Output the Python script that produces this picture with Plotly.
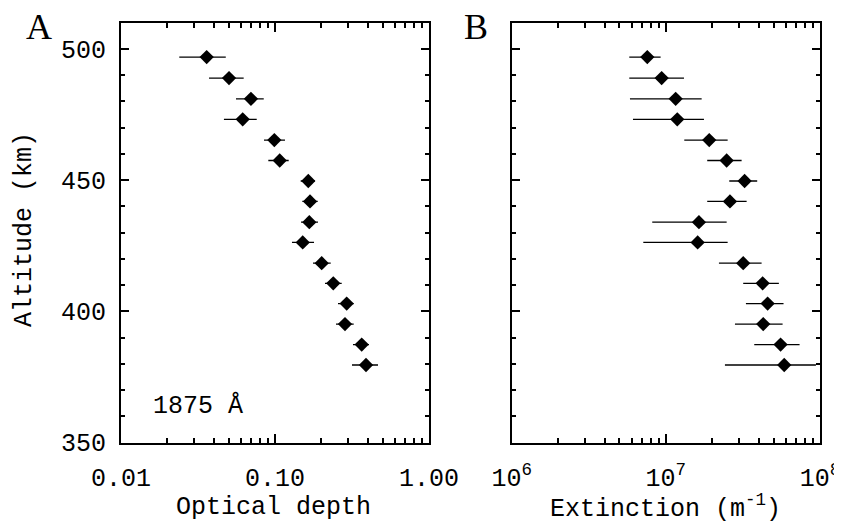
import plotly.graph_objects as go

# ---- data ----
altitude = [496.9, 488.9, 481.0, 473.2, 465.3, 457.5, 449.7, 441.9,
            434.0, 426.3, 418.4, 410.7, 403.0, 395.2, 387.4, 379.6]

tau = [0.0360, 0.0503, 0.0698, 0.0617, 0.0990, 0.1073, 0.1645, 0.1688,
       0.1670, 0.1513, 0.2010, 0.2390, 0.2921, 0.2847, 0.3656, 0.3899]
tau_lo = [0.0239, 0.0373, 0.0558, 0.0466, 0.0848, 0.0905, 0.1468, 0.1504,
          0.1475, 0.1289, 0.1765, 0.2112, 0.2565, 0.2489, 0.3209, 0.3162]
tau_hi = [0.0479, 0.0626, 0.0845, 0.0761, 0.1161, 0.1227, 0.1818, 0.1894,
          0.1902, 0.1792, 0.2300, 0.2711, 0.3243, 0.3243, 0.4077, 0.4665]

ext = [7.58e6, 9.39e6, 1.158e7, 1.186e7, 1.912e7, 2.480e7, 3.243e7, 2.605e7,
       1.639e7, 1.608e7, 3.176e7, 4.245e7, 4.573e7, 4.282e7, 5.55e7, 5.86e7]
ext_lo = [5.79e6, 5.79e6, 5.85e6, 6.12e6, 1.317e7, 1.855e7, 2.578e7, 1.855e7,
          8.16e6, 7.14e6, 2.210e7, 3.176e7, 3.307e7, 2.807e7, 3.745e7, 2.417e7]
ext_hi = [9.25e6, 1.311e7, 1.707e7, 1.767e7, 2.517e7, 3.101e7, 3.914e7, 3.342e7,
          2.480e7, 2.517e7, 4.18e7, 5.41e7, 5.80e7, 5.72e7, 7.37e7, 9.41e7]

tau_ticks = [0.01, 0.1, 1.0]
tau_ticktext = ["0.01", "0.10", "1.00"]
ext_ticks = [1e6, 1e7, 1e8]
ext_ticktext = ["10<sup>6</sup>", "10<sup>7</sup>", "10<sup>8</sup>"]
alt_ticks = [350, 400, 450, 500]
alt_minor = list(range(350, 511, 10))
tau_minor = [m * d for d in (0.01, 0.1) for m in range(2, 10)]
ext_minor = [m * d for d in (1e6, 1e7) for m in range(2, 10)]

FONT = "Liberation Mono"
FS = 25

fig = go.Figure()

def add(x, lo, hi, xa, ya):
    fig.add_trace(go.Scatter(
        x=x, y=altitude, xaxis=xa, yaxis=ya, mode="markers",
        marker=dict(symbol="diamond", size=11, color="black"),
        error_x=dict(type="data", symmetric=False,
                     array=[h - v for h, v in zip(hi, x)],
                     arrayminus=[v - l for v, l in zip(x, lo)],
                     color="black", thickness=1.3, width=0),
        showlegend=False, hoverinfo="skip"))

add(tau, tau_lo, tau_hi, "x", "y")
add(ext, ext_lo, ext_hi, "x2", "y2")

W, H = 842, 523
OFF = 8  # page body margin offset


def px(sx):
    return (sx - OFF) / W


def py(sy):
    return 1 - (sy - OFF) / H


ydom = [py(442.7), py(22.7)]

common = dict(showline=True, linecolor="black", linewidth=2, mirror="ticks",
              ticks="inside", tickcolor="black", tickwidth=2, showgrid=False,
              zeroline=False, automargin=False,
              tickfont=dict(family=FONT, size=FS, color="black"))


def minor(vals, ln):
    return dict(tickmode="array", tickvals=vals, ticks="inside", ticklen=ln,
                tickwidth=2, tickcolor="black", showgrid=False)


fig.update_layout(
    width=W, height=H, margin=dict(l=0, r=0, t=0, b=0, autoexpand=False),
    paper_bgcolor="white", plot_bgcolor="white",
    xaxis=dict(type="log", range=[-2, 0], domain=[px(121), px(429)],
               tickmode="array", tickvals=tau_ticks, ticktext=tau_ticktext,
               ticklen=9, anchor="y", ticklabelstandoff=11,
               minor=minor(tau_minor, 5), **common),
    yaxis=dict(range=[350, 510], domain=ydom, tickmode="array", tickvals=alt_ticks,
               ticklen=8, anchor="x", ticklabelstandoff=8,
               minor=minor(alt_minor, 4), **common),
    xaxis2=dict(type="log", range=[6, 8], domain=[px(511.7), px(820)],
                tickmode="array", tickvals=ext_ticks, ticktext=ext_ticktext,
                ticklen=9, anchor="y2", ticklabelstandoff=11,
                minor=minor(ext_minor, 5), **common),
    yaxis2=dict(range=[350, 510], domain=ydom, tickmode="array", tickvals=alt_ticks,
                ticklen=8, anchor="x2", showticklabels=False,
                minor=minor(alt_minor, 4), **common),
)

tf = dict(family=FONT, size=FS, color="black")
lf = dict(family="Liberation Serif", size=36, color="black")
annots = [
    dict(text="A", x=px(38.5), y=py(27), font=lf),
    dict(text="B", x=px(476), y=py(27), font=lf),
    dict(text="1875 Å", x=px(198), y=py(406), font=tf),
    dict(text="Optical depth", x=px(273), y=py(507), font=tf),
    dict(text="Extinction (m<sup>-1</sup>)", x=px(665), y=py(507), font=tf),
    dict(text="Altitude (km)", x=px(24), y=py(230), font=tf, textangle=-90),
]
for a in annots:
    fig.add_annotation(xref="paper", yref="paper", showarrow=False,
                       xanchor="center", yanchor="middle", **a)

fig.write_html("out.html")
